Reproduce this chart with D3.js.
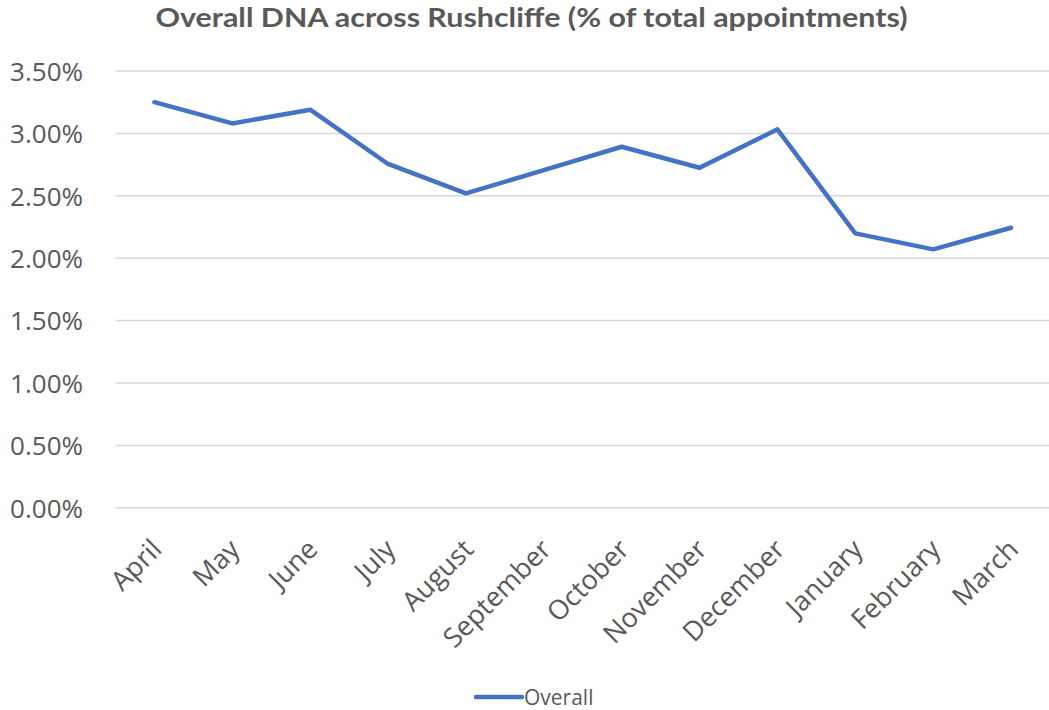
<!DOCTYPE html>
<html>
<head>
<meta charset="utf-8">
<script src="https://cdn.jsdelivr.net/npm/d3@7/dist/d3.min.js"></script>
<style>
  html, body { margin: 0; padding: 0; background: #ffffff; }
  svg { display: block; }
</style>
</head>
<body>
<svg id="chart" width="1049" height="710"></svg>
<script>
// Monthly "did not attend" rate, share of all appointments
const months = ["April", "May", "June", "July", "August", "September",
                "October", "November", "December", "January", "February", "March"];
const overall = [0.0325, 0.0308, 0.0319, 0.02755, 0.0252, 0.02705,
                 0.02893, 0.02725, 0.03033, 0.02199, 0.02071, 0.02244];
const yTicks = [0, 0.005, 0.01, 0.015, 0.02, 0.025, 0.03, 0.035];
const seriesName = "Overall";
const titleText = "Overall DNA across Rushcliffe (% of total appointments)";

const svg = d3.select("#chart");
const W = 1049, H = 710;
const plot = { left: 115.5, right: 1050, top: 71, bottom: 507.8 };

const x = d3.scaleBand().domain(months).range([plot.left, plot.right]).padding(0);
const y = d3.scaleLinear().domain([0, 0.035]).range([plot.bottom, plot.top]);
const cx = d => x(d) + x.bandwidth() / 2;

const textColor = "#595959";
const lineColor = "#4472C4";

// Title
svg.append("text")
  .attr("x", 531.5)
  .attr("y", 27)
  .attr("text-anchor", "middle")
  .attr("font-family", "Lato, 'Open Sans', sans-serif")
  .attr("font-weight", "bold")
  .attr("font-size", 27)
  .attr("fill", textColor)
  .attr("textLength", 752)
  .attr("lengthAdjust", "spacingAndGlyphs")
  .text(titleText);

// Horizontal gridlines
svg.append("g")
  .selectAll("line")
  .data(yTicks)
  .join("line")
  .attr("x1", plot.left)
  .attr("x2", W)
  .attr("y1", d => y(d))
  .attr("y2", d => y(d))
  .attr("stroke", "#d9d9d9")
  .attr("stroke-width", 1.5);

// Y axis labels
const yAxis = d3.axisLeft(y).tickValues(yTicks).tickFormat(d3.format(".2%")).tickSize(0).tickPadding(0);
const yg = svg.append("g").attr("transform", "translate(83,0)").call(yAxis);
yg.select(".domain").remove();
yg.selectAll("text")
  .attr("font-family", "'Open Sans', sans-serif")
  .attr("font-size", 26)
  .attr("fill", textColor)
  .attr("dy", "0.36em");

// X axis labels, rotated
const xAxis = d3.axisBottom(x).tickSize(0).tickPadding(0);
const xg = svg.append("g").attr("transform", "translate(0,551)").call(xAxis);
xg.select(".domain").remove();
xg.selectAll(".tick text")
  .attr("font-family", "'Open Sans', sans-serif")
  .attr("font-size", 27)
  .attr("fill", textColor)
  .attr("text-anchor", "end")
  .attr("dy", 0)
  .attr("y", 0)
  .attr("x", 0)
  .attr("transform", "translate(9,0) rotate(-45)");

// Series line
const line = d3.line()
  .x((d, i) => cx(months[i]))
  .y(d => y(d));

svg.append("path")
  .datum(overall)
  .attr("d", line)
  .attr("fill", "none")
  .attr("stroke", lineColor)
  .attr("stroke-width", 4.5)
  .attr("stroke-linejoin", "round")
  .attr("stroke-linecap", "round");

// Legend
const legend = svg.append("g").attr("transform", "translate(0,697)");
legend.append("line")
  .attr("x1", 476).attr("x2", 522)
  .attr("y1", 0).attr("y2", 0)
  .attr("stroke", lineColor)
  .attr("stroke-width", 4.5)
  .attr("stroke-linecap", "round");
legend.append("text")
  .attr("x", 524)
  .attr("y", 0)
  .attr("dy", "0.36em")
  .attr("font-family", "'Open Sans', sans-serif")
  .attr("font-size", 21)
  .attr("fill", textColor)
  .text(seriesName);
</script>
</body>
</html>
